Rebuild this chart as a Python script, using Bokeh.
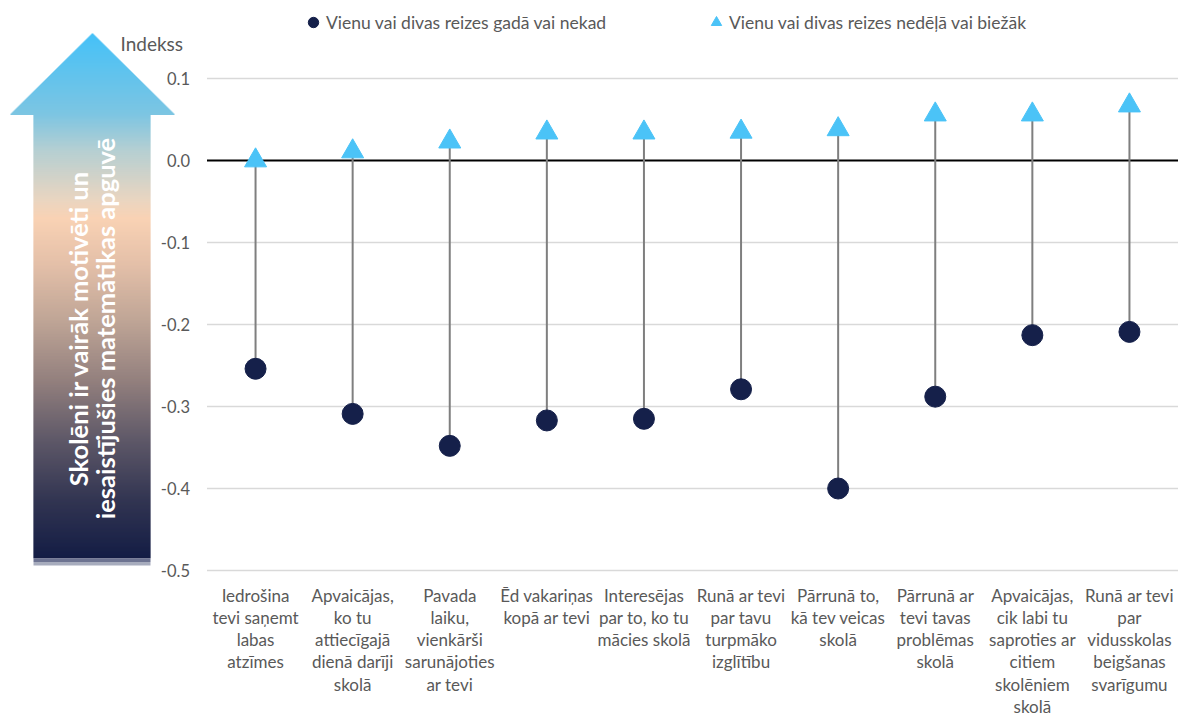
import numpy as np
from bokeh.plotting import figure
from bokeh.models import Range1d, FixedTicker, Legend, LegendItem
from bokeh.core.properties import value
from bokeh.embed import file_html
from bokeh.resources import INLINE

# ---------------- data ----------------
CATEGORIES = [
    "Iedrošina\ntevi saņemt\nlabas\natzīmes",
    "Apvaicājas,\nko tu\nattiecīgajā\ndienā darīji\nskolā",
    "Pavada\nlaiku,\nvienkārši\nsarunājoties\nar tevi",
    "Ēd vakariņas\nkopā ar tevi",
    "Interesējas\npar to, ko tu\nmācies skolā",
    "Runā ar tevi\npar tavu\nturpmāko\nizglītību",
    "Pārrunā to,\nkā tev veicas\nskolā",
    "Pārrunā ar\ntevi tavas\nproblēmas\nskolā",
    "Apvaicājas,\ncik labi tu\nsaproties ar\ncitiem\nskolēniem\nskolā",
    "Runā ar tevi\npar\nvidusskolas\nbeigšanas\nsvarīgumu",
]
RARELY = [-0.254, -0.309, -0.348, -0.317, -0.315, -0.279, -0.400, -0.288, -0.213, -0.209]
WEEKLY = [0.000, 0.011, 0.023, 0.034, 0.034, 0.035, 0.038, 0.056, 0.056, 0.067]
Y_TICKS = [-0.5, -0.4, -0.3, -0.2, -0.1, 0.0, 0.1]
Y_TICK_LABELS = ["-0.5", "-0.4", "-0.3", "-0.2", "-0.1", "0.0", "0.1"]
LEGEND_LABELS = ["Vienu vai divas reizes gadā vai nekad",
                 "Vienu vai divas reizes nedēļā vai biežāk"]
Y_TITLE = "Indekss"
ARROW_TEXT = "Skolēni ir vairāk motivēti un\niesaistījušies matemātikas apguvē"

# ---------------- layout constants (page pixels) ----------------
FONT = "Lato"
GREY_TXT = "#595959"
FRAME_W, FRAME_H = 1180, 582
AXIS_PX = 206.5          # x where the category area starts
CAT_PX = 97.1            # px per category
ZERO_PX = 160            # y of value 0
UNIT_PX = 820            # px per 1.0 of the index
N = len(CATEGORIES)
x_pos = [i + 0.5 for i in range(N)]

p = figure(
    frame_width=FRAME_W, frame_height=FRAME_H,
    x_range=Range1d(-AXIS_PX / CAT_PX, (FRAME_W - AXIS_PX) / CAT_PX),
    y_range=Range1d(-(FRAME_H - ZERO_PX) / UNIT_PX, ZERO_PX / UNIT_PX),
    output_backend="svg", toolbar_location=None,
    min_border=0, min_border_left=0, min_border_right=0, min_border_top=0,
    outline_line_color=None, background_fill_color="white",
)
# pixel-space ranges for the decorative arrow (page coordinates)
p.extra_x_ranges = {"px": Range1d(0, FRAME_W)}
p.extra_y_ranges = {"py": Range1d(FRAME_H, 0)}

p.xgrid.visible = False
p.ygrid.visible = False

# ---------------- axes ----------------
p.yaxis.fixed_location = 0
p.yaxis.ticker = FixedTicker(ticks=Y_TICKS)
p.yaxis.major_label_overrides = {t: s for t, s in zip(Y_TICKS, Y_TICK_LABELS)}
p.yaxis.axis_line_color = None
p.yaxis.major_tick_line_color = None
p.yaxis.minor_tick_line_color = None
p.yaxis.major_tick_out = 0
p.yaxis.major_tick_in = 0
p.yaxis.major_label_standoff = 17
p.yaxis.major_label_text_font = FONT
p.yaxis.major_label_text_font_size = "16.5px"
p.yaxis.major_label_text_color = GREY_TXT

p.xaxis.ticker = FixedTicker(ticks=x_pos)
p.xaxis.major_label_overrides = {x: c for x, c in zip(x_pos, CATEGORIES)}
p.xaxis.axis_line_color = None
p.xaxis.major_tick_line_color = None
p.xaxis.minor_tick_line_color = None
p.xaxis.major_tick_out = 0
p.xaxis.major_tick_in = 0
p.xaxis.major_label_standoff = 2
p.xaxis.major_label_text_font = FONT
p.xaxis.major_label_text_font_size = "17px"
p.xaxis.major_label_text_color = GREY_TXT
p.xaxis.major_label_text_line_height = 1.06
p.xaxis.major_label_text_align = "center"

# ---------------- gridlines ----------------
grid_vals = [t for t in Y_TICKS if t != 0]
p.segment(x0=[0] * len(grid_vals), x1=[N] * len(grid_vals), y0=grid_vals, y1=grid_vals,
          line_color="#D9D9D9", line_width=1.5)
p.segment(x0=[0], x1=[N], y0=[0], y1=[0], line_color="#000000", line_width=2)

# ---------------- data marks ----------------
p.segment(x0=x_pos, x1=x_pos, y0=RARELY, y1=WEEKLY, line_color="#7F7F7F", line_width=2)
r_low = p.scatter(x_pos, RARELY, marker="circle", size=21,
                  fill_color="#15204A", line_color="#15204A")
r_high = p.scatter(x_pos, WEEKLY, marker="triangle", size=22,
                   fill_color="#4BC3F7", line_color="#4BC3F7")

# ---------------- legend ----------------
leg_common = dict(
    orientation="horizontal", padding=0, margin=0, spacing=0,
    glyph_width=26, glyph_height=26, label_height=20,
    label_text_font=FONT, label_text_font_size="17.5px", label_text_color=GREY_TXT,
    background_fill_alpha=0, border_line_color=None,
)
leg1 = Legend(items=[LegendItem(label=value(LEGEND_LABELS[0]), renderers=[r_low])],
              location=(300, FRAME_H - 9 - 26), label_standoff=-6, **leg_common)
leg2 = Legend(items=[LegendItem(label=value(LEGEND_LABELS[1]), renderers=[r_high])],
              location=(703, FRAME_H - 9 - 26), label_standoff=-4, **leg_common)
p.add_layout(leg1)
p.add_layout(leg2)

# ---------------- decorative gradient arrow (page pixel coords) ----------------
stops_y = [33, 114, 150, 200, 218, 265, 320, 380, 440, 500, 557]
stops_c = ["#45C1F8", "#7DC5E2", "#B5CFD2", "#EAD5C0", "#F9D2B4", "#E3BFA8",
           "#BFA596", "#93807E", "#5E5868", "#323552", "#141D45"]
rgb = np.array([[int(c[i:i + 2], 16) for i in (1, 3, 5)] for c in stops_c], dtype=float)


def col_at(y):
    r, g, b = (np.interp(y, stops_y, rgb[:, k]) for k in range(3))
    return "#%02x%02x%02x" % (int(round(r)), int(round(g)), int(round(b)))


tip_x, tip_y, head_y, head_l, head_r = 92, 33, 114, 10, 174
shaft_l, shaft_r, shaft_b = 33, 150, 558
lefts, rights, tops, bottoms, cols = [], [], [], [], []
for yy in range(tip_y, head_y):
    frac = (yy + 1 - tip_y) / (head_y - tip_y)
    lefts.append(tip_x - (tip_x - head_l) * frac)
    rights.append(tip_x + (head_r - tip_x) * frac)
    tops.append(yy)
    bottoms.append(yy + 1.6)
    cols.append(col_at(yy + 0.5))
for yy in range(head_y, shaft_b):
    lefts.append(shaft_l)
    rights.append(shaft_r)
    tops.append(yy)
    bottoms.append(min(yy + 1.6, shaft_b))
    cols.append(col_at(yy + 0.5))
lefts += [shaft_l, shaft_l]
rights += [shaft_r, shaft_r]
tops += [shaft_b, shaft_b + 3.5]
bottoms += [shaft_b + 3.5, shaft_b + 7]
cols += ["#6D7391", "#A7ACBD"]
p.quad(left=lefts, right=rights, top=tops, bottom=bottoms, fill_color=cols,
       line_color=None, x_range_name="px", y_range_name="py")

p.text(x=[91], y=[328], text=[ARROW_TEXT], angle=np.pi / 2,
       text_align="center", text_baseline="middle",
       text_font=value(FONT), text_font_style="bold", text_font_size="25.5px",
       text_color="white", text_line_height=0.92,
       x_range_name="px", y_range_name="py")

p.text(x=[120], y=[43], text=[Y_TITLE], text_align="left", text_baseline="middle",
       text_font=value(FONT), text_font_size="19px", text_color=GREY_TXT,
       x_range_name="px", y_range_name="py")

open("out.html", "w").write(file_html(p, INLINE))
